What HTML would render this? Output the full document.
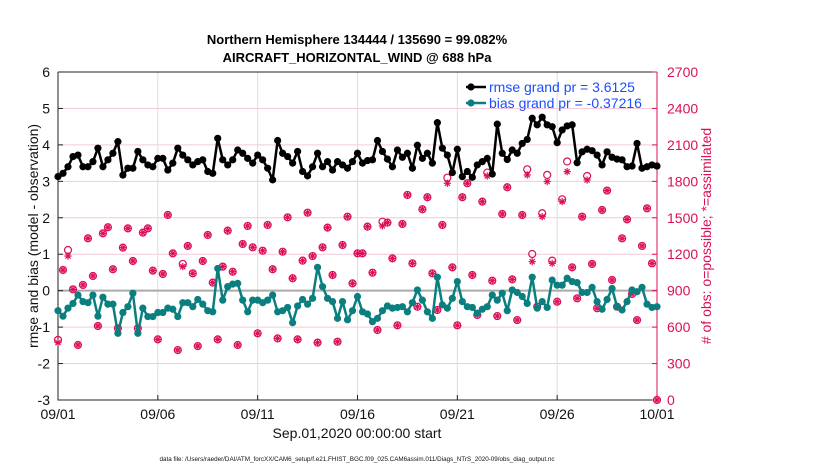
<!DOCTYPE html>
<html><head><meta charset="utf-8"><style>
body{margin:0;background:#fff;width:830px;height:470px;overflow:hidden;font-family:"Liberation Sans",sans-serif}
svg text{font-family:"Liberation Sans",sans-serif}
</style></head><body>
<svg id="chart" width="830" height="470"></svg>
<script>
const dayLabels=["09/01","09/06","09/11","09/16","09/21","09/26","10/01"];
const leftTicks=[-3,-2,-1,0,1,2,3,4,5,6];
const rightTicks=[0,300,600,900,1200,1500,1800,2100,2400,2700];
const rmse=[3.13,3.22,3.40,3.68,3.72,3.40,3.40,3.54,3.91,3.40,3.59,3.77,4.09,3.17,3.36,3.36,3.82,3.59,3.45,3.40,3.63,3.63,3.31,3.50,3.91,3.72,3.59,3.45,3.54,3.59,3.27,
3.22,4.18,3.59,3.45,3.59,3.86,3.77,3.63,3.50,3.72,3.59,3.36,3.04,4.12,3.77,3.68,3.50,3.82,3.27,3.15,3.40,3.77,3.40,3.54,3.31,3.54,3.45,3.36,3.54,3.77,
3.50,3.57,3.59,4.12,3.82,3.61,3.40,3.86,3.66,3.77,3.36,3.99,3.63,3.77,3.50,4.61,3.91,3.72,3.24,3.88,3.13,3.27,3.11,3.45,3.54,3.63,3.20,4.57,3.77,3.60,
3.86,3.77,4.04,4.15,4.73,4.55,4.76,4.55,4.50,4.06,4.41,4.52,4.55,3.51,3.81,3.88,3.84,3.72,3.45,3.81,3.66,3.61,3.59,3.40,3.42,4.04,3.36,3.40,3.45,3.42];
const bias=[-0.55,-0.70,-0.48,-0.35,-0.12,-0.30,-0.33,-0.12,-0.70,-0.18,-0.37,-0.37,-1.17,-0.60,-0.44,-0.07,-1.17,-0.48,-0.71,-0.71,-0.60,-0.60,-0.48,-0.51,-0.71,-0.33,-0.33,-0.44,-0.24,-0.37,-0.55,
-0.58,0.61,-0.26,0.11,0.18,0.20,-0.26,-0.58,-0.26,-0.26,-0.33,-0.26,-0.12,-0.58,-0.55,-0.46,-0.88,-0.42,-0.24,-0.37,-0.21,0.64,0.11,-0.21,-0.30,-0.76,-0.30,-0.80,-0.55,-0.16,
-0.58,-0.64,-0.85,-0.76,-0.55,-0.42,-0.48,-0.46,-0.44,-0.58,-0.33,0.02,-0.26,-0.58,-0.76,0.37,-0.39,-0.48,-0.21,0.25,-0.30,-0.44,-0.46,-0.62,-0.51,-0.44,-0.12,-0.26,-0.07,-0.55,
0.02,-0.05,-0.16,-0.35,0.37,-0.48,-0.30,-0.46,0.29,0.15,0.15,0.34,0.25,0.22,-0.05,-0.05,0.09,-0.30,-0.51,-0.24,0.06,-0.44,-0.53,-0.30,0.02,-0.03,0.09,-0.37,-0.46,-0.44];
const obsAssim=[472,1070,1185,911,453,947,1331,1021,609,1372,1422,1076,590,1254,1413,1144,590,1378,1413,1065,499,1037,1523,1207,411,1098,1268,1043,444,1144,1358,
966,499,1098,1394,1056,453,1284,1433,1257,549,1229,1441,1076,507,1221,1504,1002,499,1147,1542,1185,472,1257,1419,1029,480,1276,1509,960,1207,
1207,1427,1048,576,1433,1460,1166,615,1449,1688,1125,768,1570,1669,1043,741,1441,1784,1092,615,1669,1784,1029,700,1633,1844,982,691,1531,1751,
993,658,1523,1853,1139,768,1509,1798,1125,809,1633,1880,1092,837,1509,1811,1120,755,1564,1724,988,768,1331,1487,873,658,1268,1578,1125,0];
const obsPossible=[495,1070,1235,911,453,947,1331,1021,609,1372,1422,1076,590,1254,1413,1144,590,1378,1413,1065,499,1037,1523,1207,411,1120,1268,1043,444,1144,1358,
966,499,1098,1394,1056,453,1284,1433,1257,549,1229,1441,1076,507,1221,1504,1002,499,1147,1542,1185,472,1257,1419,1029,480,1276,1509,960,1207,
1207,1427,1048,576,1468,1460,1166,615,1449,1688,1125,768,1570,1669,1043,741,1441,1830,1092,615,1669,1784,1029,700,1633,1872,982,691,1531,1751,
993,658,1523,1899,1202,768,1537,1853,1147,809,1652,1963,1092,837,1509,1844,1120,755,1564,1724,988,768,1331,1487,873,658,1268,1578,1125,0];

const NS="http://www.w3.org/2000/svg";
const svg=document.getElementById('chart');
const X0=58,X1=657,Y0=72,Y1=400;
const N=rmse.length;
function xi(i){return X0+(X1-X0)*i/(N-1);}
function xd(d){return X0+(X1-X0)*d/30;}
function yl(v){return Y1-(v+3)/9*(Y1-Y0);}
function yr(v){return Y1-v/2700*(Y1-Y0);}
function mk(tag,attrs,parent){const e=document.createElementNS(NS,tag);for(const k in attrs)e.setAttribute(k,attrs[k]);(parent||svg).appendChild(e);return e;}
const pink="#dc0f5a";

rightTicks.forEach((t,k)=>{
  const g=mk('line',{x1:X0,x2:X1,y1:yr(t),y2:yr(t),stroke:'#f4c9d8','stroke-width':1});
  
  
});
dayLabels.forEach((d,k)=>{
  const g=mk('line',{x1:xd(k*5),x2:xd(k*5),y1:Y0,y2:Y1,stroke:'#dddddd','stroke-width':1});
  
  
});
const zl=mk('line',{x1:X0,x2:X1,y1:yl(0),y2:yl(0),stroke:'#aaaaaa','stroke-width':2});



const ax=mk('path',{d:`M${X0},${Y0}V${Y1}H${X1}`,fill:'none',stroke:'#222','stroke-width':1});


const tx=mk('line',{x1:X0,x2:X1,y1:Y0,y2:Y0,stroke:'#222','stroke-width':1});


const rax=mk('line',{x1:X1,x2:X1,y1:Y0,y2:Y1,stroke:pink,'stroke-width':1});



leftTicks.forEach(t=>{
  const y=yl(t);
  mk('line',{x1:X0,x2:X0+5,y1:y,y2:y,stroke:'#222'});
  const l=mk('text',{x:X0-8,y:y+5,'text-anchor':'end','font-size':14,fill:'#111'});
  l.textContent=t;
  
  
});
rightTicks.forEach(t=>{
  const y=yr(t);
  mk('line',{x1:X1-5,x2:X1,y1:y,y2:y,stroke:pink});
  const l=mk('text',{x:X1+10,y:y+5,'text-anchor':'start','font-size':14,fill:pink});
  l.textContent=t;
  
  
});
dayLabels.forEach((d,k)=>{
  const x=xd(k*5);
  mk('line',{x1:x,x2:x,y1:Y1,y2:Y1-5,stroke:'#222'});
  const l=mk('text',{x:x,y:Y1+19,'text-anchor':'middle','font-size':14,fill:'#111'});
  l.textContent=d;
  
  
});

function star(x,y,r,parent){
  for(let a=0;a<4;a++){const an=a*Math.PI/4;mk('line',{x1:x-r*Math.cos(an),y1:y-r*Math.sin(an),x2:x+r*Math.cos(an),y2:y+r*Math.sin(an),stroke:pink,'stroke-width':1.2},parent);}
}
const obsG=mk('g',{});


obsAssim.forEach((v,i)=>{
  const c=mk('circle',{cx:xi(i),cy:yr(obsPossible[i]),r:3.5,fill:'none',stroke:pink,'stroke-width':1.2},obsG);
  
  
  star(xi(i),yr(v),3.6,obsG);
});

function series(vals,color,name){
  const g=mk('g',{});
  
  
  mk('polyline',{points:vals.map((v,i)=>xi(i)+','+yl(v)).join(' '),fill:'none',stroke:color,'stroke-width':2.5,'stroke-linejoin':'round'},g);
  vals.forEach((v,i)=>{
    const c=mk('circle',{cx:xi(i),cy:yl(v),r:3.6,fill:color},g);
    
    
  });
}
series(rmse,'#000','rmse-series');
series(bias,'#0b7f7f','bias-series');

const lg=mk('g',{});


[['rmse grand pr = 3.6125','#000',87],['bias grand pr = -0.37216','#0b7f7f',103]].forEach(e=>{
  mk('line',{x1:466,x2:486,y1:e[2],y2:e[2],stroke:e[1],'stroke-width':2.5},lg);
  mk('circle',{cx:471,cy:e[2],r:3.6,fill:e[1]},lg);
  const t=mk('text',{x:489,y:e[2]+5,'font-size':14,fill:'#1a4fff'},lg);
  t.textContent=e[0];
  
  
});

function txt(s,attrs,name){const t=mk('text',attrs);t.textContent=s;return t;}
txt('Northern Hemisphere 134444 / 135690 = 99.082%',{x:357,y:44,'text-anchor':'middle','font-size':13,'font-weight':'bold',fill:'#000'},'chart-title');
txt('AIRCRAFT_HORIZONTAL_WIND @ 688 hPa',{x:357,y:62,'text-anchor':'middle','font-size':13,'font-weight':'bold',fill:'#000'},'chart-subtitle');
txt('rmse and bias (model - observation)',{x:0,y:0,'text-anchor':'middle','font-size':14,fill:'#111',transform:'translate(38,236) rotate(-90)'},'y-axis-title');
txt('# of obs: o=possible; *=assimilated',{x:0,y:0,'text-anchor':'middle','font-size':14,fill:pink,transform:'translate(711,236) rotate(-90)'},'right-axis-title');
txt('Sep.01,2020 00:00:00 start',{x:357,y:438,'text-anchor':'middle','font-size':14,fill:'#111'},'x-axis-title');
txt('data file: /Users/raeder/DAI/ATM_forcXX/CAM6_setup/f.e21.FHIST_BGC.f09_025.CAM6assim.011/Diags_NTrS_2020-09/obs_diag_output.nc',{x:357,y:461,'text-anchor':'middle','font-size':6.3,fill:'#111'},'data-file-note');
</script>
</body></html>
